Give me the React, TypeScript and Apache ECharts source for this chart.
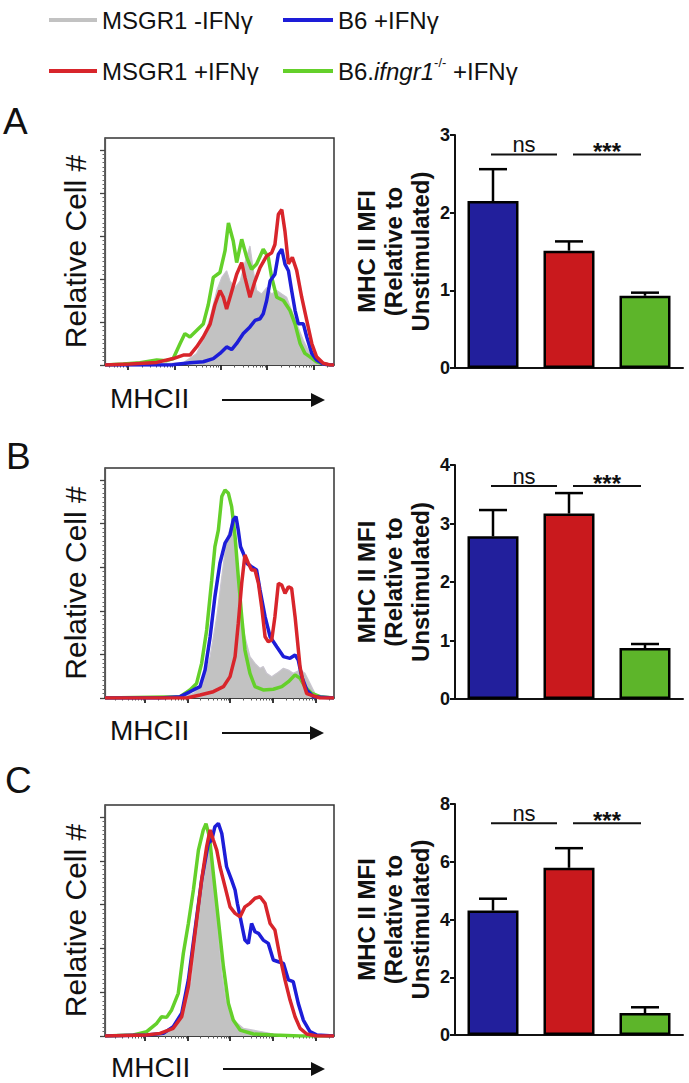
import React, { useEffect, useRef } from "react";
import * as echarts from "echarts";

const FONT = "'Liberation Sans', Arial, Helvetica, sans-serif";

// ---------- names ----------
const GRAY_NAME = "MSGR1 -IFNγ";
const RED_NAME = "MSGR1 +IFNγ";
const BLUE_NAME = "B6 +IFNγ";
const GREEN_NAME = "B6.ifngr1-/- +IFNγ";
const PANEL_LETTERS = ["A", "B", "C"];
const X_LABEL = "MHCII";
const HIST_Y_LABEL = "Relative Cell #";
const BAR_Y_LABEL = "MHC II MFI\n(Relative to\nUnstimulated)";

// ---------- histogram axes ----------
const HIST_X_MAX = 1000;
const HIST_Y_MAX = 105.5;
const HIST_Y_MAJOR = [0, 20, 40, 60, 80, 100];
const A_X_MAJOR = [100, 305, 505, 707, 910];
const BC_X_MAJOR = [175, 362, 546, 734, 921];

// ---------- histogram curves [channel, relative cell #] ----------
const A_GRAY = [[0,0],[226,0.5],[342,1],[400,5.4],[429,11.5],[459,22],[488,34.6],[510,40.7],[531,43.8],[546,39],[568,36],[590,39],[611,47.6],[633,55.3],[648,43.8],[662,34.6],[684,33],[706,36],[728,33],[750,34.6],[772,33],[793,31.5],[815,25.3],[837,19.2],[866,11.5],[895,5.4],[924,1.5],[953,0],[1000,0]];
const A_GREEN = [[0,0],[80,0.5],[153,1],[226,2.3],[269,2],[298,3],[328,10],[349,14.6],[371,13],[400,16],[429,19],[451,28],[473,40.7],[502,43],[524,53],[539,66],[560,57.6],[575,47.6],[597,58.4],[619,50],[640,44.5],[662,46.9],[691,53.8],[713,50],[728,40.7],[750,31.5],[779,30],[808,25.3],[830,19],[852,10],[873,5.4],[895,3.8],[924,1.5],[953,0.5],[983,0],[1000,0]];
const A_BLUE = [[0,0],[291,0],[313,0.3],[371,1],[429,1.5],[473,3],[502,5.4],[531,8.4],[553,7.2],[575,10],[604,14.6],[633,17.7],[655,20.7],[677,21.5],[691,23.8],[706,30],[721,39],[742,42.2],[757,51.5],[772,53.8],[786,46.9],[801,43.8],[815,34.6],[830,25.3],[844,19.2],[866,19.2],[881,13],[903,5.4],[924,2.3],[953,0.5],[983,0],[1000,0]];
const A_RED = [[0,0],[109,0.5],[226,1.2],[298,3],[342,4.6],[371,4.6],[400,8.4],[429,13],[459,19],[480,28],[502,34.6],[517,31.5],[531,26],[546,31.5],[575,42.2],[597,47.6],[611,40.7],[633,31.5],[655,39],[677,45.3],[706,50.7],[728,52.2],[742,56],[757,70],[772,72.2],[786,62],[801,47],[818,50],[837,44],[859,31.5],[881,20.7],[903,10],[924,3.8],[953,0.8],[983,0],[1000,0]];

const B_GRAY = [[0,0],[328,0.3],[386,2.1],[429,6.7],[459,19],[488,37.3],[510,55.7],[531,72.5],[553,80],[568,72.5],[582,54],[597,37.3],[611,28.1],[633,19],[655,15.9],[677,13.6],[691,14.4],[706,11.3],[728,9.8],[750,11.3],[779,13.6],[801,12.8],[822,11.3],[852,12.8],[873,11.3],[895,6.7],[917,2.1],[946,0.3],[1000,0]];
const B_GREEN = [[0,0],[328,0.6],[371,3.7],[400,6.7],[422,15.9],[444,31.2],[466,54],[480,69.4],[495,77],[510,92.4],[524,95.4],[539,93.9],[553,87.8],[568,74],[582,55.7],[597,37.3],[611,22],[633,11.3],[655,5.2],[691,3.7],[735,4],[772,5.2],[801,7.5],[830,10.6],[852,9],[873,5.2],[903,2.1],[939,0.6],[1000,0]];
const B_BLUE = [[0,0],[240,0],[328,0.6],[357,2.1],[386,3.7],[415,5.2],[437,12.8],[459,28],[480,46.5],[502,61.8],[524,71],[546,74.8],[560,81.7],[572,83.2],[582,77],[592,69.4],[604,66.4],[619,61.8],[640,60.2],[662,58.7],[677,49.5],[699,37.3],[721,28.1],[750,23.5],[779,19],[808,18.2],[830,19.7],[844,17.4],[859,9.8],[881,3.7],[910,0.6],[1000,0]];
const B_RED = [[0,0],[357,0],[415,1.4],[473,2.9],[517,5.2],[546,9.8],[568,19],[582,34.3],[597,52.6],[611,65.6],[626,61.8],[640,58.7],[655,58.7],[670,52.6],[684,41.9],[699,28.1],[713,25.8],[728,26.6],[742,37.3],[757,52.6],[772,51.8],[786,48],[801,51],[815,50.3],[830,37.3],[852,14],[866,7],[881,2],[910,1],[939,0],[1000,0]];

const C_GRAY = [[0,0],[197,0.3],[269,2],[313,5],[349,11.9],[378,25.6],[400,48.4],[422,68.2],[437,83.4],[451,92.5],[466,83.4],[480,63.6],[495,45.4],[510,28.6],[531,14.9],[560,7.3],[604,3.5],[662,2.4],[721,1.2],[779,0.3],[1000,0]];
const C_GREEN = [[0,0],[124,0.5],[182,2],[226,5.8],[247,8.8],[269,8.5],[291,11.9],[320,19.5],[342,37.7],[364,51.4],[386,66.7],[408,84.9],[429,94],[441,97],[456,91],[473,74.3],[495,53],[517,31.7],[539,14.9],[560,7.3],[590,2.7],[648,0.9],[735,0.5],[852,0],[1000,0]];
const C_BLUE = [[0,0],[182,0.5],[255,1.2],[298,4.3],[335,10.4],[364,25.6],[393,48.4],[422,71.2],[451,88],[466,89.5],[480,95.6],[495,97.1],[510,92.5],[531,77.3],[553,71.2],[568,66.7],[578,60.6],[590,54.5],[611,43.8],[626,42.3],[640,51.4],[655,47.6],[670,46.9],[691,43.8],[713,42.3],[735,34.7],[757,33.9],[779,33.2],[801,25.6],[822,24.8],[844,14.9],[866,7.3],[895,2],[924,0.5],[1000,0]];
const C_RED = [[0,0],[182,0.5],[240,1.2],[298,3.5],[335,8.8],[364,22.5],[393,46.9],[422,71.2],[444,86.5],[459,94.1],[473,89.5],[488,84.9],[502,77.3],[524,68.2],[546,59],[568,56],[590,54.5],[611,59],[633,60.6],[655,62.9],[677,63.6],[699,60.6],[721,51.4],[742,48.4],[764,36.2],[786,25.6],[808,16.4],[830,8.8],[852,3.5],[881,0.9],[924,0],[1000,0]];

// ---------- bar charts ----------
const BAR_CATEGORIES = [BLUE_NAME, RED_NAME, GREEN_NAME];
const A_MEAN = [2.15, 1.51, 0.93];
const A_SEM = [0.41, 0.12, 0.04];
const B_MEAN = [2.78, 3.17, 0.87];
const B_SEM = [0.45, 0.35, 0.07];
const C_MEAN = [4.31, 5.79, 0.76];
const C_SEM = [0.41, 0.68, 0.2];
const A_BAR_MAX = 3, A_BAR_STEP = 1;
const B_BAR_MAX = 4, B_BAR_STEP = 1;
const C_BAR_MAX = 8, C_BAR_STEP = 2;
const SIG_LABELS = ["ns", "***"];
const SIG_PAIRS = [[0, 1], [1, 2]];
const A_SIG_Y = 2.75;
const B_SIG_Y = 3.64;
const C_SIG_Y = 7.33;

// ---------- layout & style (not data) ----------
const HIST_LEFT = 105, HIST_W = 229;
const HIST_LAYOUT = [{ top: 138, height: 227 }, { top: 468, height: 230 }, { top: 805, height: 231 }];
const BAR_LEFT = 455, BAR_W = 228;
const BAR_LAYOUT = [{ top: 135, height: 233 }, { top: 465, height: 234 }, { top: 804, height: 231 }];
const LETTER_POS = [{ x: 3, y: 121 }, { x: 6, y: 456 }, { x: 5, y: 780 }];
const XLABEL_POS = [{ x: 110, y: 398 }, { x: 110, y: 730 }, { x: 111, y: 1067 }];
const ARROW_POS = [{ x1: 222, x2: 325, y: 400 }, { x1: 222, x2: 324, y: 733 }, { x1: 223, x2: 325, y: 1069 }];
const SIG_PAD = [[-2, 12], [4, 4]];
const CAP = 14;
const C_GRAY_FILL = "#c2c2c2";
const C_GRAY_EDGE = "#c9c5cf";
const C_GREEN_LINE = "#64d02a";
const C_BLUE_LINE = "#1d1dd8";
const C_RED_LINE = "#d8252b";
const BAR_COLORS = ["#221f9c", "#c9191d", "#5db52a"];

function minorTicks(majors: number[], max: number): number[] {
  const step = (majors[majors.length - 1] - majors[0]) / (majors.length - 1);
  const out: number[] = [];
  for (let d = -1; d < majors.length; d++) {
    const base = majors[0] + d * step;
    for (let k = 2; k <= 9; k++) {
      const v = base + Math.log10(k) * step;
      if (v > 0 && v < max) out.push(v);
    }
  }
  return out;
}

function yMinor(): number[] {
  const out: number[] = [];
  for (let v = 2; v < 100; v += 2) if (v % 20 !== 0) out.push(v);
  return out;
}

const PANELS = [
  { curves: [A_GRAY, A_GREEN, A_BLUE, A_RED], xMajor: A_X_MAJOR, mean: A_MEAN, sem: A_SEM, barMax: A_BAR_MAX, barStep: A_BAR_STEP, sigY: A_SIG_Y },
  { curves: [B_GRAY, B_GREEN, B_BLUE, B_RED], xMajor: BC_X_MAJOR, mean: B_MEAN, sem: B_SEM, barMax: B_BAR_MAX, barStep: B_BAR_STEP, sigY: B_SIG_Y },
  { curves: [C_GRAY, C_GREEN, C_BLUE, C_RED], xMajor: BC_X_MAJOR, mean: C_MEAN, sem: C_SEM, barMax: C_BAR_MAX, barStep: C_BAR_STEP, sigY: C_SIG_Y },
];

function buildOption() {
  const grid: any[] = [];
  const xAxis: any[] = [];
  const yAxis: any[] = [];
  const series: any[] = [];
  const axisColor = "#333";

  PANELS.forEach((p, i) => {
    grid.push({ left: HIST_LEFT, width: HIST_W, top: HIST_LAYOUT[i].top, height: HIST_LAYOUT[i].height, show: true, borderColor: "#333", borderWidth: 1.5, backgroundColor: "transparent" });
    grid.push({ left: BAR_LEFT, width: BAR_W, top: BAR_LAYOUT[i].top, height: BAR_LAYOUT[i].height });
    const gH = 2 * i, gB = 2 * i + 1;

    xAxis.push({
      type: "value", gridIndex: gH, position: "bottom", min: 0, max: HIST_X_MAX,
      axisLine: { show: true, onZero: false, lineStyle: { color: axisColor, width: 1.5 } },
      axisTick: { show: true, length: 5, customValues: p.xMajor, lineStyle: { color: "#222", width: 1.8 } },
      axisLabel: { show: false }, splitLine: { show: false },
    });
    xAxis.push({
      type: "value", gridIndex: gH, position: "bottom", min: 0, max: HIST_X_MAX,
      axisLine: { show: false, onZero: false },
      axisTick: { show: true, length: 2.5, customValues: minorTicks(p.xMajor, HIST_X_MAX), lineStyle: { color: "#555", width: 1 } },
      axisLabel: { show: false }, splitLine: { show: false },
    });
    xAxis.push({
      type: "category", gridIndex: gB, data: BAR_CATEGORIES,
      axisLine: { show: true, lineStyle: { color: "#111", width: 2 } },
      axisTick: { show: false }, axisLabel: { show: false }, splitLine: { show: false },
    });

    yAxis.push({
      type: "value", gridIndex: gH, position: "left", min: 0, max: HIST_Y_MAX,
      axisLine: { show: true, lineStyle: { color: "#555", width: 1.2 } },
      axisTick: { show: true, length: 5, customValues: HIST_Y_MAJOR, lineStyle: { color: "#444", width: 1.3 } },
      axisLabel: { show: false }, splitLine: { show: false },
      name: HIST_Y_LABEL, nameLocation: "middle", nameGap: 15, nameRotate: 90,
      nameTextStyle: { fontSize: 30, fontFamily: FONT, color: "#111" },
    });
    yAxis.push({
      type: "value", gridIndex: gB, position: "left", min: 0, max: p.barMax, interval: p.barStep,
      axisLine: { show: true, lineStyle: { color: "#111", width: 2 } },
      axisTick: { show: true, length: 5, lineStyle: { color: "#111", width: 2 } },
      axisLabel: { show: true, fontSize: 18, fontWeight: "bold", fontFamily: FONT, color: "#111", margin: 5 },
      splitLine: { show: false },
      name: BAR_Y_LABEL, nameLocation: "middle", nameGap: 21, nameRotate: 90,
      nameTextStyle: { fontSize: 24, fontWeight: "bold", fontFamily: FONT, color: "#111", lineHeight: 27, align: "center" },
    });
  });

  PANELS.forEach((p, i) => {
    yAxis.push({
      type: "value", gridIndex: 2 * i, position: "left", min: 0, max: HIST_Y_MAX,
      axisLine: { show: false },
      axisTick: { show: true, length: 2.5, customValues: yMinor(), lineStyle: { color: "#666", width: 1 } },
      axisLabel: { show: false }, splitLine: { show: false },
    });
  });

  const names = [GRAY_NAME, GREEN_NAME, BLUE_NAME, RED_NAME];
  const lineColors = [C_GRAY_EDGE, C_GREEN_LINE, C_BLUE_LINE, C_RED_LINE];

  PANELS.forEach((p, i) => {
    const xi = 3 * i, yi = 2 * i;
    p.curves.forEach((c, k) => {
      const s: any = {
        name: names[k], type: "line", xAxisIndex: xi, yAxisIndex: yi, data: c,
        showSymbol: false, symbol: "none", silent: true, z: 2 + k,
        itemStyle: { color: k === 0 ? C_GRAY_FILL : lineColors[k] },
        lineStyle: { color: lineColors[k], width: k === 0 ? 1.2 : 3.5 },
      };
      if (k === 0) s.areaStyle = { color: C_GRAY_FILL, opacity: 1 };
      series.push(s);
    });

    const bx = 3 * i + 2, by = 2 * i + 1;
    series.push({
      name: "MHC II MFI " + PANEL_LETTERS[i], type: "bar", xAxisIndex: bx, yAxisIndex: by,
      data: p.mean.map((v, k) => ({ value: v, itemStyle: { color: BAR_COLORS[k] } })),
      barWidth: 51, silent: true, z: 2,
      itemStyle: { borderColor: "#000", borderWidth: 2.5 },
    });
    series.push({
      type: "custom", xAxisIndex: bx, yAxisIndex: by, silent: true, z: 3,
      encode: { x: 0, y: 1 },
      data: BAR_CATEGORIES.map((c, k) => [c, p.mean[k], p.sem[k]]),
      renderItem: (params: any, api: any) => {
        const x = api.value(0), m = api.value(1), e = api.value(2);
        const p0 = api.coord([x, m]);
        const p1 = api.coord([x, m + e]);
        const st = { stroke: "#000", lineWidth: 2.5 };
        return {
          type: "group",
          children: [
            { type: "line", shape: { x1: p0[0], y1: p0[1], x2: p1[0], y2: p1[1] }, style: st },
            { type: "line", shape: { x1: p1[0] - CAP, y1: p1[1], x2: p1[0] + CAP, y2: p1[1] }, style: st },
          ],
        };
      },
    });
    series.push({
      type: "custom", xAxisIndex: bx, yAxisIndex: by, silent: true, z: 4,
      encode: { x: 0, y: 1 },
      data: SIG_PAIRS.map(([a, b]) => [BAR_CATEGORIES[a], p.sigY, b]),
      renderItem: (params: any, api: any) => {
        const k = params.dataIndex;
        const a = api.value(0), y = api.value(1), b = api.value(2);
        const pa = api.coord([a, y]);
        const pb = api.coord([b, y]);
        const x1 = pa[0] + SIG_PAD[k][0];
        const x2 = pb[0] - SIG_PAD[k][1];
        const label = SIG_LABELS[k];
        const isStar = label.indexOf("*") >= 0;
        return {
          type: "group",
          children: [
            { type: "line", shape: { x1, y1: pa[1], x2, y2: pa[1] }, style: { stroke: "#111", lineWidth: 2 } },
            {
              type: "text", x: (x1 + x2) / 2, y: isStar ? pa[1] - 3 : pa[1] + 1,
              style: {
                text: label, fill: "#111", fontFamily: FONT,
                fontSize: isStar ? 24 : 22, fontWeight: isStar ? "bold" : "normal",
                align: "center", textAlign: "center",
                verticalAlign: isStar ? "middle" : "bottom", textVerticalAlign: isStar ? "middle" : "bottom",
              },
            },
          ],
        };
      },
    });
  });

  const graphic: any[] = [];
  PANEL_LETTERS.forEach((t, i) => {
    graphic.push({ type: "text", x: LETTER_POS[i].x, y: LETTER_POS[i].y, style: { text: t, fontSize: 37, fontFamily: FONT, fill: "#111", verticalAlign: "middle", textVerticalAlign: "middle" } });
    graphic.push({ type: "text", x: XLABEL_POS[i].x, y: XLABEL_POS[i].y, style: { text: X_LABEL, fontSize: 28, fontFamily: FONT, fill: "#111", verticalAlign: "middle", textVerticalAlign: "middle" } });
    const a = ARROW_POS[i];
    graphic.push({ type: "line", shape: { x1: a.x1, y1: a.y, x2: a.x2 - 10, y2: a.y }, style: { stroke: "#111", lineWidth: 2 } });
    graphic.push({ type: "polygon", shape: { points: [[a.x2 - 14, a.y - 7], [a.x2, a.y], [a.x2 - 14, a.y + 7]] }, style: { fill: "#111" } });
  });

  const legendText = {
    fontSize: 24, fontFamily: FONT, color: "#111", lineHeight: 30,
    rich: {
      t: { fontSize: 24, fontFamily: FONT, color: "#111", lineHeight: 30 },
      i: { fontSize: 24, fontFamily: FONT, color: "#111", fontStyle: "italic", lineHeight: 30 },
      s: { fontSize: 13, fontFamily: FONT, color: "#111", verticalAlign: "top", lineHeight: 18 },
    },
  };
  const legendFormatter = (name: string) =>
    name === GREEN_NAME ? "{t|B6.}{i|ifngr1}{s|-/-}{t| +IFNγ}" : name;
  const legendCommon = {
    orient: "vertical", top: 0, itemWidth: 48, itemHeight: 4, itemGap: 21, icon: "rect",
    selectedMode: false, textStyle: legendText, formatter: legendFormatter,
  };

  return {
    animation: false,
    backgroundColor: "#ffffff",
    textStyle: { fontFamily: FONT },
    legend: [
      { ...legendCommon, left: 44, data: [GRAY_NAME, RED_NAME] },
      { ...legendCommon, left: 278, itemWidth: 50, data: [BLUE_NAME, GREEN_NAME] },
    ],
    grid, xAxis, yAxis, series, graphic,
  };
}

export default function App() {
  const ref = useRef<HTMLDivElement>(null);
  useEffect(() => {
    if (!ref.current) return;
    const chart = echarts.init(ref.current, undefined, { renderer: "svg" });
    chart.setOption(buildOption() as any);
    return () => chart.dispose();
  }, []);
  return (
    <div
      ref={ref}
      style={{ position: "fixed", left: 0, top: 0, width: 689, height: 1083, background: "#fff" }}
    />
  );
}
